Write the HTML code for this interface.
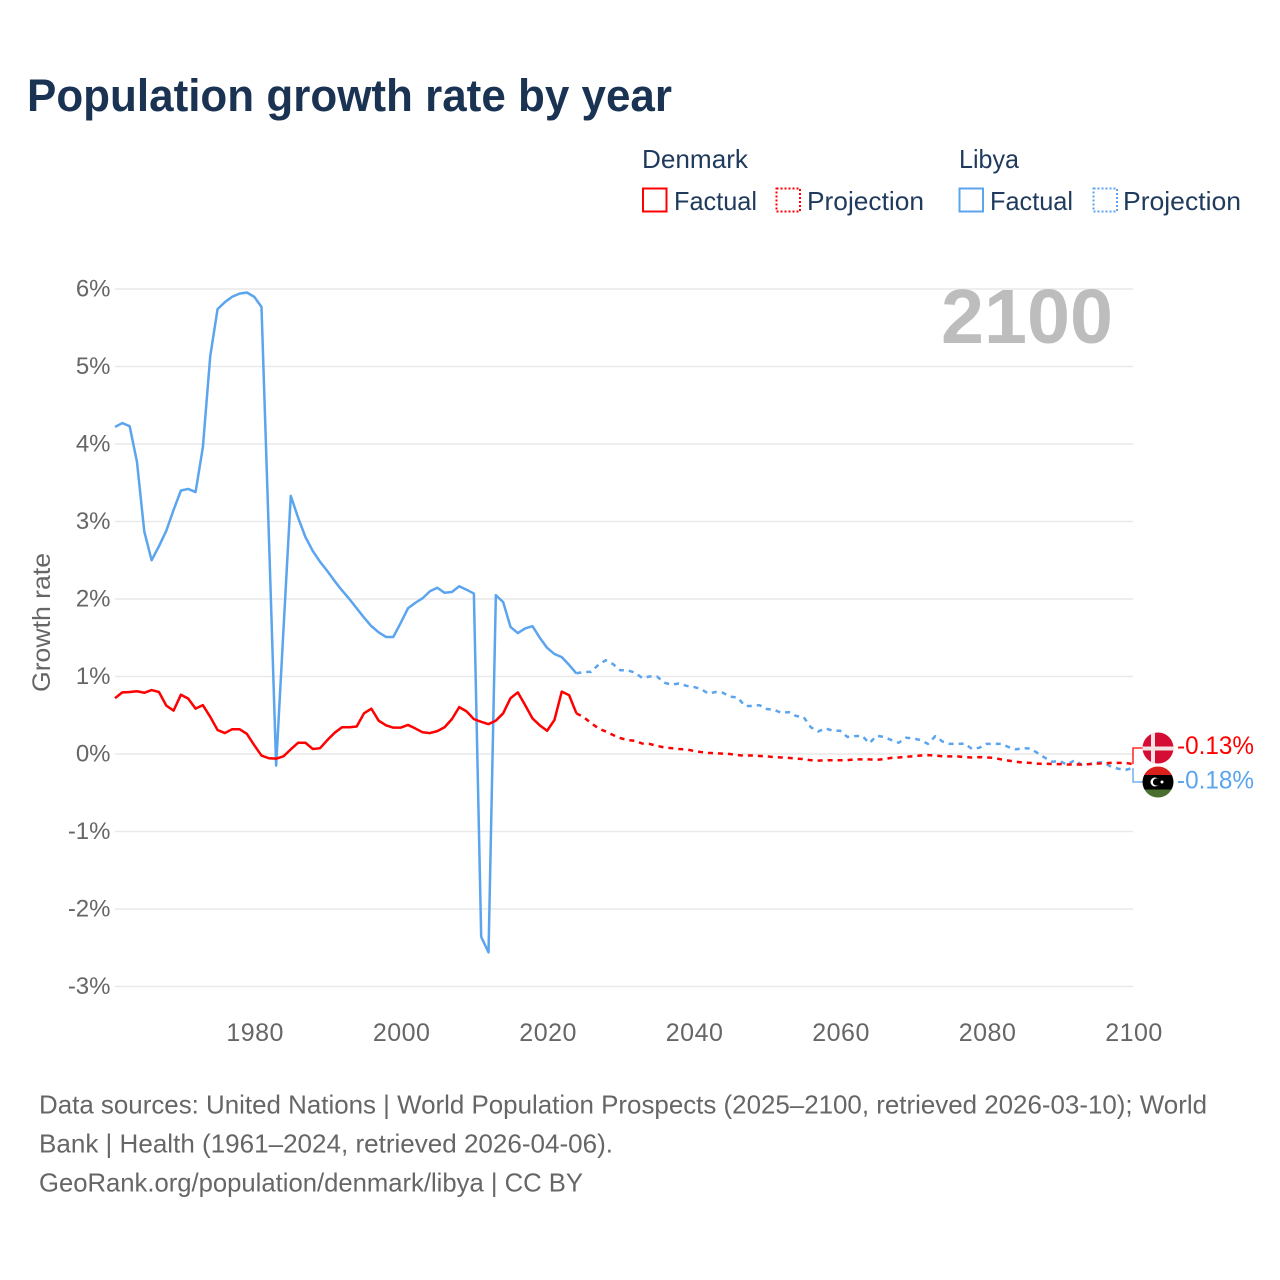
<!DOCTYPE html>
<html lang="en">
<head>
<meta charset="utf-8">
<title>Population growth rate by year</title>
<style>
  html, body { margin: 0; padding: 0; background: #ffffff; }
  svg { display: block; font-family: "Liberation Sans", sans-serif; }
</style>
</head>
<body>
<svg id="chart" xmlns="http://www.w3.org/2000/svg" width="1280" height="1280" viewBox="0 0 1280 1280">
  <rect x="0" y="0" width="1280" height="1280" fill="#ffffff"/>
  <text x="27" y="111" font-size="45" font-weight="700" fill="#1a3353" textLength="645" lengthAdjust="spacingAndGlyphs">Population growth rate by year</text>

  <g font-size="26" fill="#1f3a5c">
    <text x="642" y="168" textLength="106" lengthAdjust="spacingAndGlyphs">Denmark</text>
    <text x="959" y="168" textLength="60" lengthAdjust="spacingAndGlyphs">Libya</text>
    <rect x="643" y="188.5" width="23.5" height="23" fill="none" stroke="#ff0000" stroke-width="2"/>
    <text x="674" y="210" textLength="83" lengthAdjust="spacingAndGlyphs">Factual</text>
    <rect x="776.5" y="188.5" width="23.5" height="23" fill="none" stroke="#ff0000" stroke-width="2" stroke-dasharray="2 2"/>
    <text x="807" y="210" textLength="117" lengthAdjust="spacingAndGlyphs">Projection</text>
    <rect x="959.5" y="188.5" width="23.5" height="23" fill="none" stroke="#5ba4ee" stroke-width="2"/>
    <text x="990" y="210" textLength="83" lengthAdjust="spacingAndGlyphs">Factual</text>
    <rect x="1093.5" y="188.5" width="23.5" height="23" fill="none" stroke="#5ba4ee" stroke-width="2" stroke-dasharray="2 2"/>
    <text x="1123" y="210" textLength="118" lengthAdjust="spacingAndGlyphs">Projection</text>
  </g>

  <g id="grid"></g>
  <g id="yLabels"></g>
  <g id="xLabels"></g>
  <text transform="translate(50,692) rotate(-90)" font-size="25" fill="#666666" textLength="139" lengthAdjust="spacingAndGlyphs">Growth rate</text>
  <text x="941" y="343" font-size="77" font-weight="700" fill="#bdbdbd" textLength="172" lengthAdjust="spacingAndGlyphs">2100</text>

  <g id="series"></g>

  <defs>
    <clipPath id="clipDk"><circle cx="1158" cy="748" r="15.5"/></clipPath>
    <clipPath id="clipLy"><circle cx="1158" cy="782" r="15.5"/></clipPath>
  </defs>
  <g clip-path="url(#clipDk)">
    <rect x="1142" y="732" width="32" height="32" fill="#d50c33"/>
    <rect x="1151" y="732" width="4" height="32" fill="#f3e3e3"/>
    <rect x="1142" y="746.5" width="32" height="4" fill="#f3e3e3"/>
  </g>
  <g clip-path="url(#clipLy)">
    <rect x="1142" y="766" width="32" height="9" fill="#d9201c"/>
    <rect x="1142" y="775" width="32" height="14.5" fill="#000000"/>
    <rect x="1142" y="789.5" width="32" height="9" fill="#4a6e2e"/>
    <circle cx="1155" cy="782" r="4.5" fill="#ffffff"/>
    <circle cx="1156.5" cy="782" r="3.6" fill="#000000"/>
    <circle cx="1162" cy="782" r="1.5" fill="#ffffff"/>
  </g>
  <text id="dkValue" x="1177" y="754" font-size="25" fill="#ff0000" textLength="77" lengthAdjust="spacingAndGlyphs"></text>
  <text id="lyValue" x="1177" y="788.5" font-size="25" fill="#5ba4ee" textLength="77" lengthAdjust="spacingAndGlyphs"></text>

  <g font-size="26" fill="#666666">
    <text x="39" y="1113.5" textLength="1168" lengthAdjust="spacingAndGlyphs">Data sources: United Nations | World Population Prospects (2025–2100, retrieved 2026-03-10); World</text>
    <text x="39" y="1152.5" textLength="574" lengthAdjust="spacingAndGlyphs">Bank | Health (1961–2024, retrieved 2026-04-06).</text>
    <text x="39" y="1191.5" textLength="544" lengthAdjust="spacingAndGlyphs">GeoRank.org/population/denmark/libya | CC BY</text>
  </g>
</svg>
<script>
const factualStartYear = 1961;
const projectionStartYear = 2024;
const yTickValues = [6, 5, 4, 3, 2, 1, 0, -1, -2, -3];
const xTickValues = [1980, 2000, 2020, 2040, 2060, 2080, 2100];
const denmarkFactual = [0.72,0.795,0.80,0.81,0.79,0.825,0.80,0.625,0.56,0.765,0.715,0.585,0.63,0.48,0.31,0.27,0.32,0.32,0.26,0.115,-0.02,-0.055,-0.06,-0.03,0.06,0.145,0.145,0.065,0.075,0.18,0.275,0.345,0.345,0.355,0.525,0.585,0.43,0.37,0.34,0.34,0.375,0.33,0.28,0.27,0.295,0.345,0.45,0.605,0.55,0.45,0.415,0.385,0.43,0.525,0.72,0.795,0.63,0.46,0.37,0.30,0.44,0.805,0.76,0.525];
const denmarkProjection = [0.525,0.475,0.40,0.33,0.29,0.245,0.205,0.18,0.17,0.135,0.13,0.105,0.085,0.075,0.065,0.06,0.04,0.025,0.015,0.01,0.005,0,-0.015,-0.02,-0.02,-0.025,-0.03,-0.04,-0.045,-0.05,-0.06,-0.065,-0.08,-0.085,-0.08,-0.08,-0.08,-0.08,-0.07,-0.07,-0.07,-0.075,-0.065,-0.05,-0.045,-0.035,-0.03,-0.02,-0.015,-0.02,-0.03,-0.03,-0.03,-0.04,-0.045,-0.04,-0.045,-0.05,-0.07,-0.085,-0.10,-0.11,-0.115,-0.125,-0.125,-0.13,-0.13,-0.135,-0.135,-0.135,-0.13,-0.125,-0.12,-0.115,-0.115,-0.115,-0.13];
const libyaFactual = [4.22,4.27,4.23,3.77,2.87,2.50,2.68,2.88,3.15,3.40,3.42,3.38,3.96,5.13,5.74,5.83,5.90,5.94,5.955,5.90,5.77,2.85,-0.15,1.6,3.33,3.05,2.80,2.62,2.48,2.36,2.23,2.11,2.0,1.88,1.76,1.65,1.57,1.51,1.51,1.69,1.88,1.95,2.01,2.10,2.145,2.08,2.09,2.165,2.12,2.07,-2.36,-2.56,2.05,1.96,1.64,1.56,1.62,1.65,1.50,1.37,1.29,1.25,1.15,1.04];
const libyaProjection = [1.04,1.06,1.06,1.15,1.21,1.16,1.08,1.08,1.05,0.98,1.0,1.0,0.92,0.895,0.91,0.88,0.865,0.84,0.78,0.80,0.79,0.74,0.73,0.62,0.62,0.63,0.58,0.57,0.53,0.54,0.49,0.48,0.345,0.29,0.33,0.30,0.30,0.22,0.23,0.235,0.14,0.235,0.22,0.18,0.145,0.21,0.20,0.18,0.13,0.23,0.16,0.13,0.13,0.135,0.065,0.08,0.13,0.13,0.13,0.09,0.06,0.075,0.07,0.01,-0.05,-0.10,-0.09,-0.14,-0.08,-0.14,-0.13,-0.11,-0.11,-0.165,-0.19,-0.205,-0.18];
const denmarkEndLabel = "-0.13%";
const libyaEndLabel = "-0.18%";

const NS = "http://www.w3.org/2000/svg";
const xScale = function (year) { return 115 + (year - 1961) * 7.324; };
const yScale = function (value) { return 754 - value * 77.5; };

const grid = document.getElementById("grid");
const yLabels = document.getElementById("yLabels");
const xLabels = document.getElementById("xLabels");
const series = document.getElementById("series");

yTickValues.forEach(function (v) {
  const line = document.createElementNS(NS, "line");
  
  
  line.setAttribute("x1", 115);
  line.setAttribute("x2", 1133);
  line.setAttribute("y1", yScale(v));
  line.setAttribute("y2", yScale(v));
  line.setAttribute("stroke", "#e9e9e9");
  line.setAttribute("stroke-width", "1.5");
  grid.appendChild(line);

  const label = document.createElementNS(NS, "text");
  
  
  label.setAttribute("x", 110.5);
  label.setAttribute("y", yScale(v) + 7.5);
  label.setAttribute("text-anchor", "end");
  label.setAttribute("font-size", "24");
  label.setAttribute("fill", "#666666");
  label.textContent = v + "%";
  yLabels.appendChild(label);
});

xTickValues.forEach(function (year) {
  const label = document.createElementNS(NS, "text");
  
  
  label.setAttribute("x", xScale(year) + 1);
  label.setAttribute("y", 1041);
  label.setAttribute("text-anchor", "middle");
  label.setAttribute("font-size", "25");
  label.setAttribute("letter-spacing", "0.5");
  label.setAttribute("fill", "#666666");
  label.textContent = String(year);
  xLabels.appendChild(label);
});

function pathFor(values, startYear) {
  return values.map(function (v, i) {
    return (i ? "L" : "M") + xScale(startYear + i).toFixed(2) + " " + yScale(v).toFixed(2);
  }).join(" ");
}

function addLine(name, values, startYear, color, dashed) {
  const p = document.createElementNS(NS, "path");
  
  
  p.setAttribute("d", pathFor(values, startYear));
  p.setAttribute("fill", "none");
  p.setAttribute("stroke", color);
  p.setAttribute("stroke-width", "2.5");
  p.setAttribute("stroke-linejoin", "round");
  if (dashed) { p.setAttribute("stroke-dasharray", "5 5"); }
  series.appendChild(p);
}

addLine("libya-factual-line", libyaFactual, factualStartYear, "#5ba4ee", false);
addLine("libya-projection-line", libyaProjection, projectionStartYear, "#5ba4ee", true);
addLine("denmark-factual-line", denmarkFactual, factualStartYear, "#ff0000", false);
addLine("denmark-projection-line", denmarkProjection, projectionStartYear, "#ff0000", true);

function addConnector(name, lastValue, labelY, color) {
  const c = document.createElementNS(NS, "path");
  
  
  c.setAttribute("d", "M1133 " + yScale(lastValue).toFixed(2) + " V" + labelY + " H1143");
  c.setAttribute("fill", "none");
  c.setAttribute("stroke", color);
  c.setAttribute("stroke-width", "1.3");
  series.appendChild(c);
}

addConnector("denmark-label-connector", denmarkProjection[denmarkProjection.length - 1], 748, "#ff0000");
addConnector("libya-label-connector", libyaProjection[libyaProjection.length - 1], 782, "#5ba4ee");

document.getElementById("dkValue").textContent = denmarkEndLabel;
document.getElementById("lyValue").textContent = libyaEndLabel;
</script>
</body>
</html>
